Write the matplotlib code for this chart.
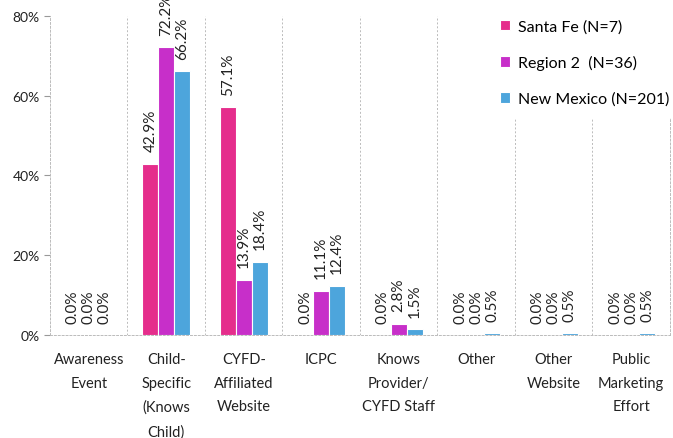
import numpy as np
import matplotlib.pyplot as plt
from matplotlib.ticker import PercentFormatter, FixedLocator

plt.rcParams['font.family'] = ['Lato', 'DejaVu Sans']

categories = ['Awareness\nEvent', 'Child-\nSpecific\n(Knows\nChild)', 'CYFD-\nAffiliated\nWebsite',
              'ICPC', 'Knows\nProvider/\nCYFD Staff', 'Other', 'Other\nWebsite',
              'Public\nMarketing\nEffort']
series = ['Santa Fe (N=7)', 'Region 2  (N=36)', 'New Mexico (N=201)']
santa_fe = [0.0, 42.9, 57.1, 0.0, 0.0, 0.0, 0.0, 0.0]
region_2 = [0.0, 72.2, 13.9, 11.1, 2.8, 0.0, 0.0, 0.0]
new_mexico = [0.0, 66.2, 18.4, 12.4, 1.5, 0.5, 0.5, 0.5]
colors = ['#E52D8C', '#C72FC9', '#4DA5DC']

fig = plt.figure(figsize=(6.73, 4.39), dpi=100)
ax = fig.add_axes([0.0743, 0.2346, 0.9212, 0.7267])

x = np.arange(len(categories))
w = 0.205
for i, (vals, name, c) in enumerate(zip([santa_fe, region_2, new_mexico], series, colors)):
    pos = x + (i - 1) * w
    ax.bar(pos, vals, width=w, color=c, edgecolor='white', linewidth=0.8, label=name, zorder=3)
    for p, v in zip(pos, vals):
        ax.annotate(f'{v:.1f}%', (p, v), xytext=(0, 9), textcoords='offset points',
                    rotation=90, ha='center', va='bottom', fontsize=11,
                    color='#222222', annotation_clip=False)

ax.set_xlim(-0.5, len(categories) - 0.5)
ax.set_ylim(0, 80)
ax.set_yticks([0, 20, 40, 60, 80])
ax.yaxis.set_major_formatter(PercentFormatter(decimals=0))
ax.set_xticks(x)
ax.set_xticklabels(categories, fontsize=10.5, color='#222222', linespacing=1.9, va='top')
ax.tick_params(axis='x', length=0, pad=12)
ax.tick_params(axis='y', labelsize=10, colors='#999999', labelcolor='#222222', length=4)

ax.xaxis.set_minor_locator(FixedLocator(np.arange(0.5, len(categories) - 0.5, 1)))
ax.tick_params(axis='x', which='minor', length=0)
ax.grid(True, axis='x', which='minor', color='#bbbbbb', linestyle=(0, (2, 2)), linewidth=0.7, zorder=0)

ax.spines['top'].set_visible(False)
for s in ['left', 'bottom', 'right']:
    ax.spines[s].set_color('#bbbbbb')
    ax.spines[s].set_linestyle((0, (2, 2)))
    ax.spines[s].set_linewidth(0.7)

leg = ax.legend(loc='upper right', bbox_to_anchor=(1.03, 1.05), frameon=True, fontsize=11.5,
                handlelength=0.6, handleheight=0.6, handletextpad=0.5, labelspacing=1.35,
                borderpad=0.7, fancybox=False)
leg.get_frame().set_edgecolor('white')
leg.get_frame().set_alpha(1)
leg.set_zorder(5)

fig.savefig('out.png', dpi=100)
